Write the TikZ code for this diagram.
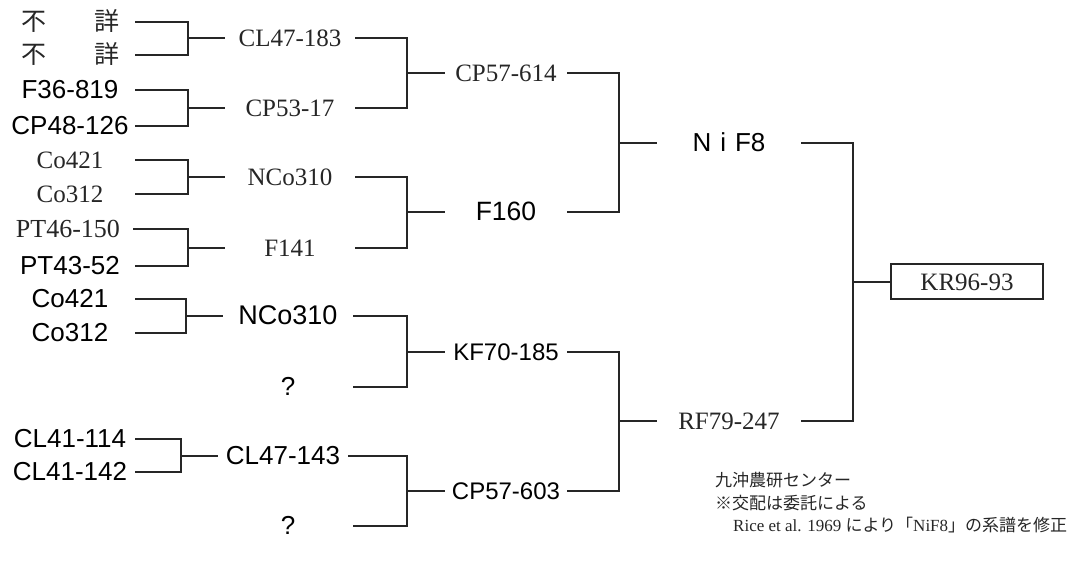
\documentclass[tikz,border=0pt]{standalone}
\usepackage{fontspec}
\setmainfont{Liberation Serif}
\setsansfont{Liberation Sans}
\newfontfamily\jpfont{Noto Sans CJK JP}
\usetikzlibrary{calc}
\newcommand\pedlink[4]{%
  \draw[conn] (#1.east) -| ([xshift=-#4]#3.west) -- (#3.west);
  \draw[conn] (#2.east) -| ([xshift=-#4]#3.west);}
\begin{document}
\begin{tikzpicture}[x=1pt,y=-1pt,
  conn/.style={draw=black!85, line width=2pt},
  lab/.style={inner sep=0pt, text height=17pt, text depth=0pt, anchor=center},
  ser/.style={lab, font=\rmfamily\fontsize{25}{28}\selectfont, text=black!85},
  san/.style={lab, font=\sffamily\fontsize{26}{30}\selectfont, text=black},
  jpn/.style={lab, font=\jpfont\fontsize{25}{28}\selectfont, text=black!85},
  note/.style={inner sep=0pt, anchor=base west, font=\jpfont\fontsize{17}{20}\selectfont, text=black!85},
  cA/.style={minimum width=130pt},
  cB/.style={minimum width=130pt},
  cC/.style={minimum width=122pt},
  cD/.style={minimum width=144pt}]
\useasboundingbox (0,0) rectangle (1092,567);
% column 1
\node[jpn,cA] (a1) at (70,22) {不\hspace{48pt}詳};
\node[jpn,cA] (a2) at (70,55) {不\hspace{48pt}詳};
\node[san,cA] (a3) at (70,90) {F36-819};
\node[san,cA] (a4) at (70,126) {CP48-126};
\node[ser,cA] (a5) at (70,160) {Co421};
\node[ser,cA] (a6) at (70,194) {Co312};
\node[ser,cA,font=\rmfamily\fontsize{26}{30}\selectfont] (a7) at (68,229) {PT46-150};
\node[san,cA] (a8) at (70,266) {PT43-52};
\node[san,cA] (a9) at (70,299) {Co421};
\node[san,cA] (a10) at (70,333) {Co312};
\node[san,cA] (a11) at (70,439) {CL41-114};
\node[san,cA] (a12) at (70,472) {CL41-142};
% column 2
\node[ser,cB] (b1) at (290,38.5) {CL47-183};
\node[ser,cB] (b2) at (290,108) {CP53-17};
\node[ser,cB] (b3) at (290,177) {NCo310};
\node[ser,cB] (b4) at (290,247.5) {F141};
\node[san,cB,font=\sffamily\fontsize{27}{30}\selectfont] (b5) at (288,316) {NCo310};
\node[san,cB] (b6) at (288,387) {?};
\node[san,cB] (b7) at (283,455.5) {CL47-143};
\node[san,cB] (b8) at (288,526) {?};
% column 3
\node[ser,cC] (c1) at (506,73.25) {CP57-614};
\node[san,cC,font=\sffamily\fontsize{26.5}{30}\selectfont] (c2) at (506,212.25) {F160};
\node[san,cC,font=\sffamily\fontsize{24}{28}\selectfont] (c3) at (506,351.5) {KF70-185};
\node[san,cC,font=\sffamily\fontsize{24}{28}\selectfont] (c4) at (506,490.75) {CP57-603};
% column 4
\node[san,cD] (d1) at (729,142.75) {N\hspace{9pt}i\hspace{9pt}F8};
\node[ser,cD] (d2) at (729,421) {RF79-247};
% final
\node[ser, draw=black!85, line width=2pt, minimum width=152pt, minimum height=35pt] (e) at (967,281.9) {KR96-93};
% connectors
\pedlink{a1}{a2}{b1}{37pt}
\pedlink{a3}{a4}{b2}{37pt}
\pedlink{a5}{a6}{b3}{37pt}
\pedlink{a7}{a8}{b4}{37pt}
\pedlink{a9}{a10}{b5}{37pt}
\pedlink{a11}{a12}{b7}{37pt}
\pedlink{b1}{b2}{c1}{38pt}
\pedlink{b3}{b4}{c2}{38pt}
\pedlink{b5}{b6}{c3}{38pt}
\pedlink{b7}{b8}{c4}{38pt}
\pedlink{c1}{c2}{d1}{38pt}
\pedlink{c3}{c4}{d2}{38pt}
\pedlink{d1}{d2}{e}{37pt}
% notes
\node[note] (n1) at (715,486) {九沖農研センター};
\node[note] (n2) at (715,509) {※交配は委託による};
\node[note] (n3) at (733,531) {{\rmfamily Rice et al. 1969 }により「{\rmfamily NiF8}」の系譜を修正};
\end{tikzpicture}
\end{document}
